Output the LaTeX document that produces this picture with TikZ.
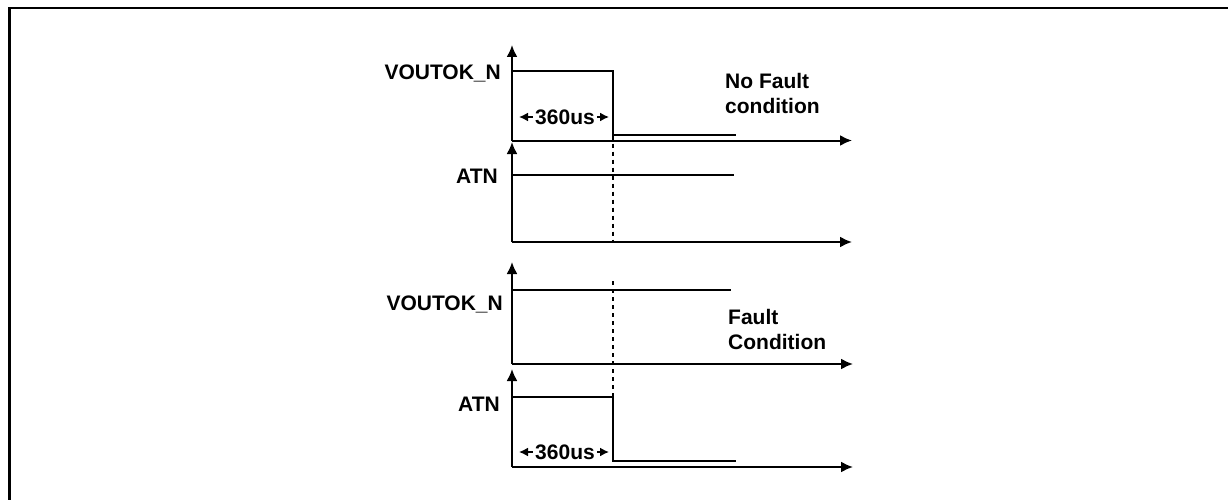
\documentclass[tikz,border=0pt]{standalone}
\usepackage{fontspec}
\setmainfont{Liberation Sans}
\usetikzlibrary{arrows.meta}
\begin{document}
\begin{tikzpicture}[x=1pt,y=-1pt,
  axis/.style={line width=2pt,-{Latex[length=12pt,width=11pt]}},
  sig/.style={line width=2pt},
  dline/.style={line width=1.5pt,dash pattern=on 4pt off 4pt},
  lab/.style={font=\fontsize{21}{25}\selectfont\bfseries, anchor=east, inner sep=0pt},
  note/.style={font=\fontsize{21}{25}\selectfont\bfseries, anchor=west, align=left, inner sep=0pt},
  dur/.style={line width=1.6pt,{Latex[length=9pt,width=9pt]}-{Latex[length=9pt,width=9pt]}},
  durtext/.style={font=\fontsize{21}{22}\selectfont\bfseries, fill=white, inner xsep=2pt, inner ysep=1pt}
]
\useasboundingbox (0,0) rectangle (1228,500);
% frame
\coordinate (fbl) at (9.5,500);
\coordinate (ftl) at (9.5,8);
\coordinate (ftr) at (1228,8);
\draw[line width=2.2pt] (fbl) -- (ftl) -- (ftr);

% axes
\coordinate (o1) at (512,140.5); \coordinate (x1) at (852,140.5); \coordinate (y1) at (512,45);
\coordinate (o2) at (512,242); \coordinate (x2) at (852,242); \coordinate (y2) at (512,142);
\coordinate (o3) at (512,364); \coordinate (x3) at (853,364); \coordinate (y3) at (512,262);
\coordinate (o4) at (512,467); \coordinate (x4) at (853,467); \coordinate (y4) at (512,369);
\foreach \i in {1,2,3,4}{
  \draw[axis] (o\i) -- (x\i);
  \draw[axis] (o\i) -- (y\i);
}

% signals - no fault
\coordinate (v1a) at (512,71); \coordinate (v1b) at (613,71);
\coordinate (v1c) at (613,135.5); \coordinate (v1d) at (736,135.5);
\draw[sig] (v1a) -- (v1b) -- (v1c) -- (v1d);
\coordinate (a1a) at (512,175); \coordinate (a1b) at (734,175);
\draw[sig] (a1a) -- (a1b);
\coordinate (d1b) at (613,242);
\draw[dline] (v1c) -- (d1b);

% signals - fault
\coordinate (v3a) at (512,290); \coordinate (v3b) at (731,290);
\draw[sig] (v3a) -- (v3b);
\coordinate (a4a) at (512,397); \coordinate (a4b) at (613,397);
\coordinate (a4c) at (613,461); \coordinate (a4d) at (736,461);
\draw[sig] (a4a) -- (a4b) -- (a4c) -- (a4d);
\coordinate (d2a) at (613,281);
\draw[dline] (d2a) -- (a4b);

% labels
\node[lab] (l1) at (501,73) {VOUTOK\_N};
\node[lab] (l2) at (498,176) {ATN};
\node[lab] (l3) at (503,304) {VOUTOK\_N};
\node[lab] (l4) at (500,404) {ATN};

\node[note] (n1) at (725,93) {No Fault\\condition};
\node[note] (n2) at (728,329.5) {Fault\\Condition};

% durations
\coordinate (t1a) at (519,117); \coordinate (t1b) at (609,117);
\draw[dur] (t1a) -- (t1b);
\node[durtext] (t1) at (565,117) {360us};
\coordinate (t2a) at (519,452); \coordinate (t2b) at (609,452);
\draw[dur] (t2a) -- (t2b);
\node[durtext] (t2) at (565,452) {360us};
\end{tikzpicture}
\end{document}
